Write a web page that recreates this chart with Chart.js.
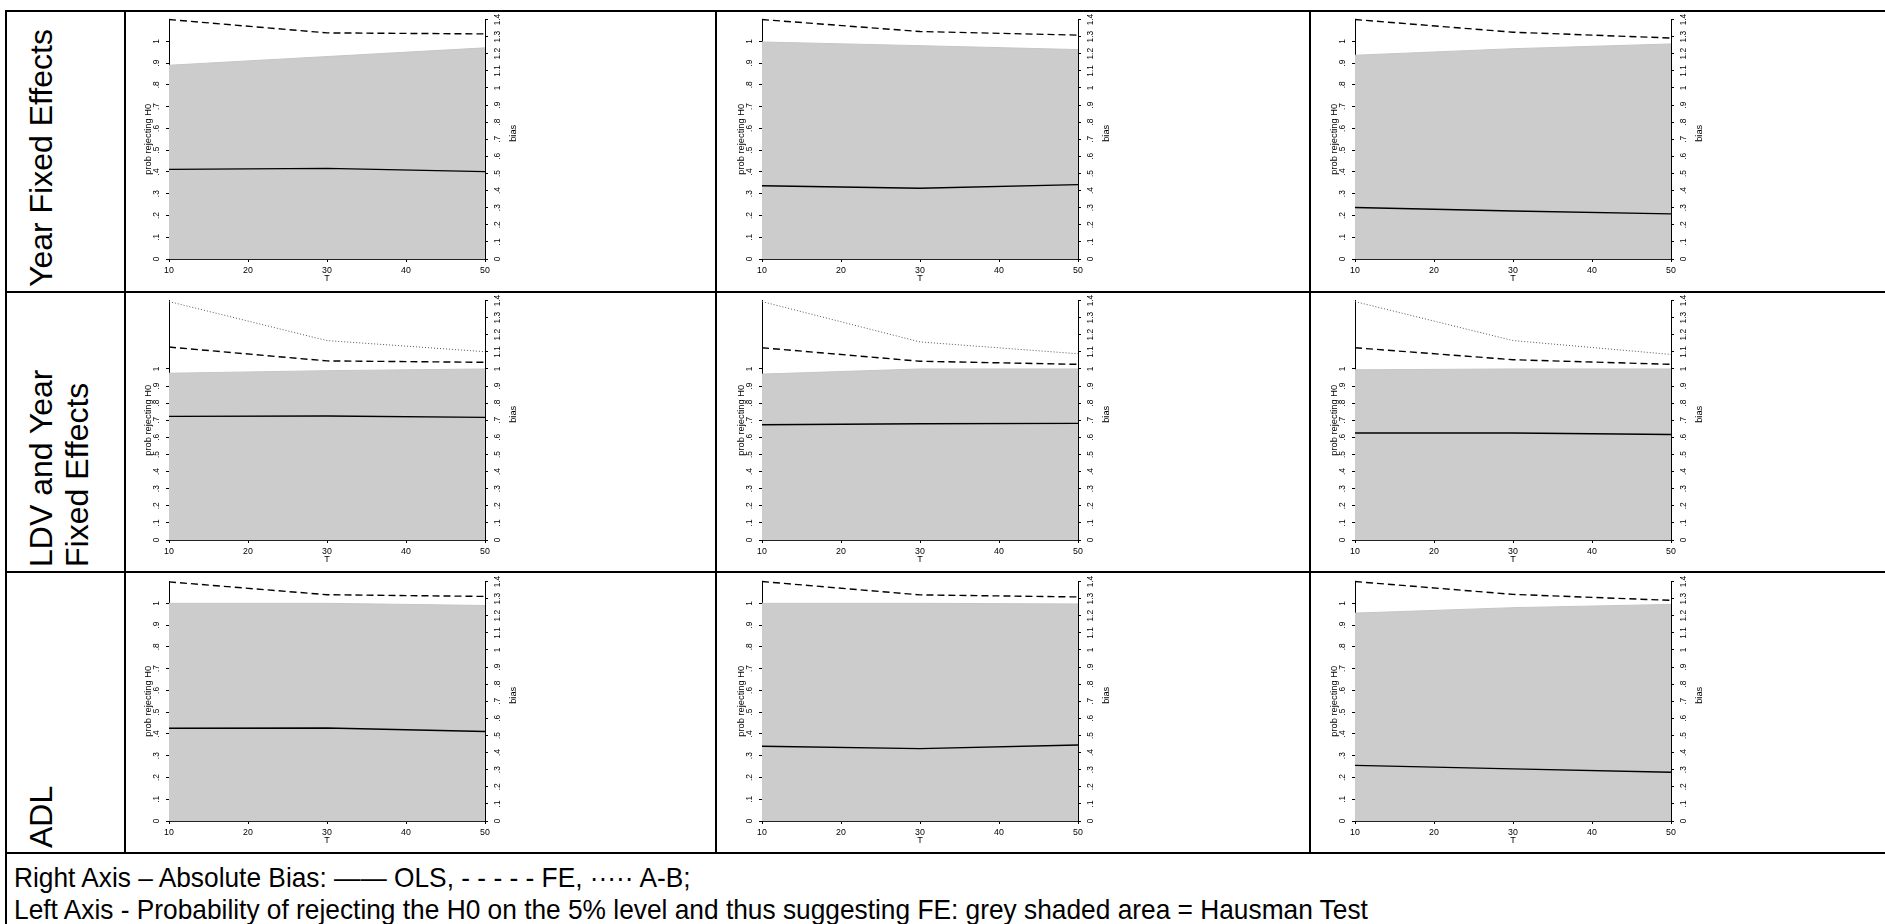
<!DOCTYPE html>
<html>
<head>
<meta charset="utf-8">
<title>Bias and Hausman test by T</title>
<script src="https://cdn.jsdelivr.net/npm/chart.js@4.4.1/dist/chart.umd.min.js"></script>
<style>
html,body{margin:0;padding:0;background:#fff;}
body{width:1885px;height:924px;position:relative;overflow:hidden;font-family:"Liberation Sans",Arial,sans-serif;color:#000;}
.hline{position:absolute;height:2px;background:#000;}
.vline{position:absolute;width:2px;background:#000;}
.rowlab{position:absolute;transform-origin:0 0;transform:rotate(-90deg);font-size:32px;line-height:36px;white-space:nowrap;}
.panel{position:absolute;}
.note{position:absolute;left:14px;top:862px;font-size:26.3px;line-height:30px;white-space:nowrap;transform-origin:0 0;transform:scaleY(1.06);}
</style>
</head>
<body>

<div class="hline" style="left:5px;top:10px;width:1880px"></div>
<div class="hline" style="left:5px;top:291px;width:1880px"></div>
<div class="hline" style="left:5px;top:571px;width:1880px"></div>
<div class="hline" style="left:5px;top:852px;width:1880px"></div>
<div class="vline" style="left:5px;top:10px;height:914px"></div>
<div class="vline" style="left:124px;top:10px;height:843px"></div>
<div class="vline" style="left:715px;top:10px;height:843px"></div>
<div class="vline" style="left:1309px;top:10px;height:843px"></div>

<div class="note">Right Axis – Absolute Bias: —— OLS, - - - - - FE, ····· A-B;<br>Left Axis - Probability of rejecting the H0 on the 5% level and thus suggesting FE: grey shaded area = Hausman Test</div>

<script>
/* ================================
   DATA
================================ */

const tValues = [10, 30, 50];
const xTicks = [10, 20, 30, 40, 50];
const probTicks = [0, 0.1, 0.2, 0.3, 0.4, 0.5, 0.6, 0.7, 0.8, 0.9, 1];
const biasTicks = [0, 0.1, 0.2, 0.3, 0.4, 0.5, 0.6, 0.7, 0.8, 0.9, 1, 1.1, 1.2, 1.3, 1.4];

const rowNames = ["Year Fixed Effects", "LDV and Year<br>Fixed Effects", "ADL"];
const probAxisMax = [1.1, 1.4, 1.1];
const biasAxisMax = 1.4;

/* Hausman test: probability of rejecting H0 (grey area) */
const hausmanYearFE = [[0.89, 0.93, 0.97], [0.997, 0.98, 0.962], [0.936, 0.966, 0.988]];
const hausmanLDV    = [[0.975, 0.99, 1.0], [0.97, 1.0, 1.0], [0.995, 1.0, 1.0]];
const hausmanADL    = [[1.0, 1.0, 0.99], [1.0, 1.0, 0.997], [0.955, 0.98, 0.995]];

/* absolute bias */
const olsYearFE = [[0.524, 0.530, 0.511], [0.428, 0.414, 0.435], [0.301, 0.281, 0.264]];
const olsLDV    = [[0.723, 0.725, 0.717], [0.674, 0.680, 0.682], [0.626, 0.626, 0.617]];
const olsADL    = [[0.542, 0.544, 0.523], [0.437, 0.423, 0.444], [0.325, 0.305, 0.285]];

const feYearFE = [[1.40, 1.322, 1.316], [1.40, 1.330, 1.309], [1.40, 1.326, 1.292]];
const feLDV    = [[1.128, 1.047, 1.039], [1.124, 1.045, 1.027], [1.124, 1.054, 1.027]];
const feADL    = [[1.398, 1.323, 1.313], [1.40, 1.322, 1.31], [1.40, 1.325, 1.29]];

const abLDV = [[1.394, 1.166, 1.101], [1.394, 1.158, 1.089], [1.394, 1.166, 1.085]];

const hausmanRows = [hausmanYearFE, hausmanLDV, hausmanADL];
const olsRows = [olsYearFE, olsLDV, olsADL];
const feRows = [feYearFE, feLDV, feADL];
const abRows = [null, abLDV, null];


/* ================================
   LAYOUT
================================ */

const axisLeftX = [169, 762, 1355];
const panelTopY = [17, 298, 579];
const rowBottomY = [291, 571, 852];
const PLOT_W = 316, PLOT_H = 242;
const PAD_L = 45, PAD_R = 40, PAD_T = 8, PAD_B = 26;
const TICK_LEN = 3;

const GFONT = '"Liberation Sans", Arial, sans-serif';
const TICK_SIZE = 8.4;
const TITLE_SIZE = 9.3;

Chart.defaults.font.family = GFONT;
Chart.defaults.color = "#000";

const measureCtx = document.createElement("canvas").getContext("2d");


function points(values){
    return values.map((v, i) => ({x: tValues[i], y: v}));
}

function fmtTick(v){
    if(v === 0) return "0";
    let s = String(Math.round(v * 10) / 10);
    if(s.startsWith("0.")) s = s.substring(1);
    return s;
}

function widestLabel(ticks){
    measureCtx.font = TICK_SIZE + "px " + GFONT;
    return Math.max(...ticks.map(v => measureCtx.measureText(fmtTick(v)).width));
}

/* centre of the rotated tick labels: 12px left / 13px right of the axis */
const leftTickPad = 12 - TICK_LEN - widestLabel(probTicks) / 2;
const rightTickPad = 13 - TICK_LEN - widestLabel(biasTicks) / 2;

/* right axis title reads bottom-to-top like the left one */
const biasTitle = {
    id: "biasTitle",
    afterDraw(chart){
        const s = chart.scales.yR;
        const ctx = chart.ctx;
        ctx.save();
        ctx.translate(s.left + 28, (s.top + s.bottom) / 2 - 6);
        ctx.rotate(-Math.PI / 2);
        ctx.font = TITLE_SIZE + "px " + GFONT;
        ctx.fillStyle = "#000";
        ctx.textAlign = "center";
        ctx.textBaseline = "middle";
        ctx.fillText("bias", 0, 0);
        ctx.restore();
    }
};


function makePanel(row, col){

    const canvas = document.createElement("canvas");
    canvas.className = "panel";
    canvas.width = PAD_L + PLOT_W + PAD_R;
    canvas.height = PAD_T + PLOT_H + PAD_B;
    canvas.style.left = (axisLeftX[col] - PAD_L) + "px";
    canvas.style.top = (panelTopY[row] - PAD_T) + "px";
    document.body.appendChild(canvas);

    const datasets = [
        {
            label: "OLS",
            data: points(olsRows[row][col]),
            yAxisID: "yR",
            borderColor: "#000",
            borderWidth: 1.4,
            pointRadius: 0,
            fill: false,
            clip: false,
            order: 0
        },
        {
            label: "FE",
            data: points(feRows[row][col]),
            yAxisID: "yR",
            borderColor: "#000",
            borderWidth: 1.4,
            borderDash: [7, 4],
            pointRadius: 0,
            fill: false,
            clip: false,
            order: 1
        }
    ];

    if(abRows[row]){
        datasets.push({
            label: "A-B",
            data: points(abRows[row][col]),
            yAxisID: "yR",
            borderColor: "#555",
            borderWidth: 1,
            borderDash: [1, 2],
            pointRadius: 0,
            fill: false,
            clip: false,
            order: 2
        });
    }

    datasets.push({
        label: "Hausman",
        data: points(hausmanRows[row][col]),
        yAxisID: "yL",
        borderColor: "#c6c6c6",
        borderWidth: 1,
        backgroundColor: "#cccccc",
        pointRadius: 0,
        fill: "start",
        order: 3
    });

    new Chart(canvas.getContext("2d"), {
        type: "line",
        data: {datasets: datasets},
        plugins: [biasTitle],
        options: {
            responsive: false,
            animation: false,
            events: [],
            layout: {
                autoPadding: false,
                padding: {left: 0, right: 0, top: PAD_T, bottom: 0}
            },
            plugins: {
                legend: {display: false},
                tooltip: {enabled: false}
            },
            scales: {
                x: {
                    type: "linear",
                    min: 10,
                    max: 50,
                    afterBuildTicks: s => { s.ticks = xTicks.map(v => ({value: v})); },
                    afterFit: s => { s.height = PAD_B; },
                    grid: {drawOnChartArea: false, tickLength: TICK_LEN, color: "#000"},
                    border: {color: "#222", width: 1},
                    ticks: {font: {size: 8.8}, padding: 3, maxRotation: 0, autoSkip: false},
                    title: {display: true, text: "T", font: {size: 9}, padding: {top: 0, bottom: 1}}
                },
                yL: {
                    type: "linear",
                    position: "left",
                    min: 0,
                    max: probAxisMax[row],
                    afterBuildTicks: s => { s.ticks = probTicks.map(v => ({value: v})); },
                    afterFit: s => { s.width = PAD_L; },
                    grid: {drawOnChartArea: false, tickLength: TICK_LEN, color: "#000"},
                    border: {color: "#000", width: 1},
                    ticks: {
                        font: {size: TICK_SIZE},
                        minRotation: 90,
                        maxRotation: 90,
                        crossAlign: "center",
                        padding: leftTickPad,
                        autoSkip: false,
                        callback: v => fmtTick(v)
                    },
                    title: {
                        display: true,
                        text: "prob rejecting H0",
                        font: {size: TITLE_SIZE},
                        padding: {top: 24 - TITLE_SIZE * 0.6, bottom: 0}
                    }
                },
                yR: {
                    type: "linear",
                    position: "right",
                    min: 0,
                    max: biasAxisMax,
                    afterBuildTicks: s => { s.ticks = biasTicks.map(v => ({value: v})); },
                    afterFit: s => { s.width = PAD_R; },
                    grid: {drawOnChartArea: false, tickLength: TICK_LEN, color: "#000"},
                    border: {color: "#000", width: 1},
                    ticks: {
                        font: {size: TICK_SIZE},
                        minRotation: 90,
                        maxRotation: 90,
                        crossAlign: "center",
                        padding: rightTickPad,
                        autoSkip: false,
                        callback: v => fmtTick(v)
                    },
                    title: {display: false}
                }
            }
        }
    });
}


document.addEventListener("DOMContentLoaded", function(){

    rowNames.forEach((name, r)=>{
        const lab = document.createElement("div");
        lab.className = "rowlab";
        lab.innerHTML = name;
        lab.style.left = "23px";
        lab.style.top = (rowBottomY[r] - 4) + "px";
        document.body.appendChild(lab);
    });

    for(let r = 0; r < 3; r++){
        for(let c = 0; c < 3; c++){
            makePanel(r, c);
        }
    }

});
</script>
</body>
</html>
